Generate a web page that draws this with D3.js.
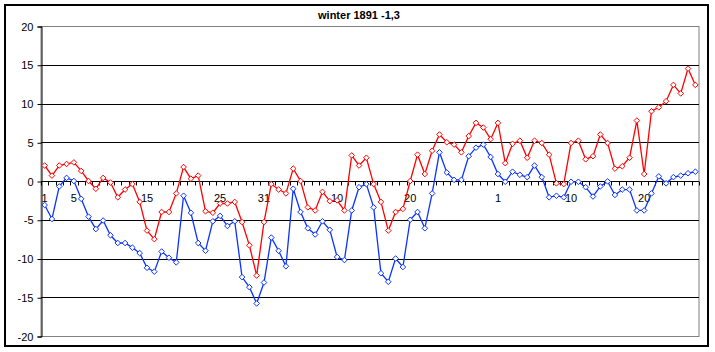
<!DOCTYPE html>
<html>
<head>
<meta charset="utf-8">
<script src="https://cdn.jsdelivr.net/npm/d3@7"></script>
<style>
    body { margin: 0; background: #fff; }
    text { font-family: "Liberation Sans", Arial, sans-serif; }
</style>
</head>
<body>
<div id="chart"></div>
<script>
// days of winter 1891 (Dec, Jan, Feb)
var days = d3.range(90);

var labelIndex = [0, 4, 14, 24, 30, 40, 50, 62, 72, 82];
var labelText = ["1", "5", "15", "25", "31", "10", "20", "1", "10", "20"];

var yTicks = [-20, -15, -10, -5, 0, 5, 10, 15, 20];

var redValues = [2.0, 0.7, 2.0, 2.2, 2.4, 1.3, 0.0, -1.0, 0.4, -0.2,
    -2.1, -1.1, -0.4, -2.7, -6.4, -7.5, -4.0, -4.0, -1.6, 1.8,
    0.3, 0.7, -3.9, -4.1, -2.9, -2.9, -2.7, -5.3, -8.3, -12.2,
    -5.3, -0.4, -1.1, -1.6, 1.6, 0.0, -3.4, -3.8, -1.4, -2.6,
    -2.5, -3.8, 3.3, 2.0, 3.0, -0.4, -2.7, -6.4, -4.0, -3.6,
    0.0, 3.4, 0.9, 3.9, 6.0, 5.0, 4.7, 3.7, 5.8, 7.5,
    6.9, 5.4, 7.5, 2.3, 4.8, 5.2, 3.0, 5.2, 4.9, 3.4,
    -0.3, -0.4, 4.9, 5.2, 2.8, 3.2, 6.0, 4.9, 1.6, 1.9,
    3.0, 7.8, 0.9, 9.0, 9.5, 10.3, 12.4, 11.3, 14.5, 12.4];

var blueValues = [-3.1, -4.9, -0.7, 0.4, 0.0, -2.3, -4.6, -6.2, -5.1, -7.0,
    -8.0, -8.0, -8.6, -9.3, -11.2, -11.7, -9.1, -9.9, -10.5, -1.9,
    -4.1, -8.0, -9.0, -5.2, -4.5, -5.8, -5.2, -12.4, -13.7, -15.8,
    -13.1, -7.3, -9.0, -11.0, -1.0, -4.0, -6.1, -6.9, -5.2, -6.3,
    -9.8, -10.2, -3.8, -0.8, -0.4, -3.4, -11.9, -13.0, -10.0, -11.1,
    -5.0, -4.0, -6.1, -1.6, 3.7, 1.1, 0.15, 0.15, 3.2, 4.3,
    4.7, 3.1, 0.9, -0.1, 1.2, 0.8, 0.5, 2.0, 0.5, -2.1,
    -1.9, -2.1, -0.1, -0.1, -0.8, -2.0, -0.7, -0.05, -1.8, -1.1,
    -1.1, -3.8, -3.8, -1.6, 0.6, -0.3, 0.5, 0.7, 1.0, 1.2];

var width = 715, height = 352;
var plot = {left: 41, top: 26, right: 699, bottom: 336};

var svg = d3.select("#chart")
    .append("svg")
    .attr("width", width)
    .attr("height", height);

var x = d3.scaleBand()
    .domain(days)
    .range([plot.left, plot.right])
    .padding(0);

var y = d3.scaleLinear()
    .domain([-20, 20])
    .range([plot.bottom, plot.top]);

// outer chart border
svg.append("rect")
    .attr("x", 5)
    .attr("y", 5)
    .attr("width", 703)
    .attr("height", 341)
    .attr("fill", "#fff")
    .attr("stroke", "#000")
    .attr("stroke-width", 2);

// plot area border (grey)
svg.append("rect")
    .attr("x", plot.left)
    .attr("y", y(20) + 0.5)
    .attr("width", plot.right - plot.left)
    .attr("height", y(-20) - y(20))
    .attr("fill", "none")
    .attr("stroke", "#808080")
    .attr("stroke-width", 1);

// gridlines
svg.selectAll(".grid")
    .data(yTicks.filter(function (d) { return d !== 20 && d !== -20 && d !== 0; }))
    .enter()
    .append("line")
    .attr("class", "grid")
    .attr("x1", plot.left)
    .attr("x2", plot.right)
    .attr("y1", function (d) { return Math.round(y(d)) + 0.5; })
    .attr("y2", function (d) { return Math.round(y(d)) + 0.5; })
    .attr("stroke", "#000")
    .attr("stroke-width", 1);

// y axis
var yAxis = d3.axisLeft(y)
    .tickValues(yTicks)
    .tickSize(4)
    .tickPadding(4)
    .tickFormat(function (d) { return d; });

var gy = svg.append("g")
    .attr("transform", "translate(" + (plot.left + 0.5) + ",0.5)")
    .call(yAxis);
gy.select(".domain").attr("stroke", "#000");
gy.selectAll(".tick line").attr("stroke", "#000");
gy.selectAll("text")
    .attr("fill", "#000")
    .style("font-size", "11px");

// x axis at zero
var zeroY = Math.round(y(0)) + 0.5;
svg.append("line")
    .attr("x1", plot.left)
    .attr("x2", plot.right)
    .attr("y1", zeroY)
    .attr("y2", zeroY)
    .attr("stroke", "#000")
    .attr("stroke-width", 1);

svg.selectAll(".xtick")
    .data(days.concat([90]))
    .enter()
    .append("line")
    .attr("class", "xtick")
    .attr("x1", function (d) { return Math.round(d < 90 ? x(d) : plot.right) + 0.5; })
    .attr("x2", function (d) { return Math.round(d < 90 ? x(d) : plot.right) + 0.5; })
    .attr("y1", zeroY)
    .attr("y2", zeroY + 4)
    .attr("stroke", "#000")
    .attr("stroke-width", 1);

svg.selectAll(".xlabel")
    .data(labelIndex)
    .enter()
    .append("text")
    .attr("class", "xlabel")
    .attr("x", function (d) { return x(d) + x.bandwidth() / 2; })
    .attr("y", zeroY + 20)
    .attr("text-anchor", "middle")
    .style("font-size", "11px")
    .text(function (d, i) { return labelText[i]; });

// title
svg.append("text")
    .attr("x", 359)
    .attr("y", 19)
    .attr("text-anchor", "middle")
    .style("font-size", "11px")
    .style("font-weight", "bold")
    .text("winter 1891 -1,3");

var line = d3.line()
    .x(function (d, i) { return x(i) + x.bandwidth() / 2; })
    .y(function (d) { return y(d); });

function drawSeries(values, color) {
    svg.append("path")
        .datum(values)
        .attr("d", line)
        .attr("fill", "none")
        .attr("stroke", color)
        .attr("stroke-width", 1.3);

    svg.selectAll(null)
        .data(values)
        .enter()
        .append("path")
        .attr("d", "M0,-2.8L2.8,0L0,2.8L-2.8,0Z")
        .attr("transform", function (d, i) {
            return "translate(" + (x(i) + x.bandwidth() / 2) + "," + y(d) + ")";
        })
        .attr("fill", "#fff")
        .attr("stroke", color)
        .attr("stroke-width", 1);
}

drawSeries(redValues, "#ff0000");
drawSeries(blueValues, "#0a33ff");
</script>
</body>
</html>
